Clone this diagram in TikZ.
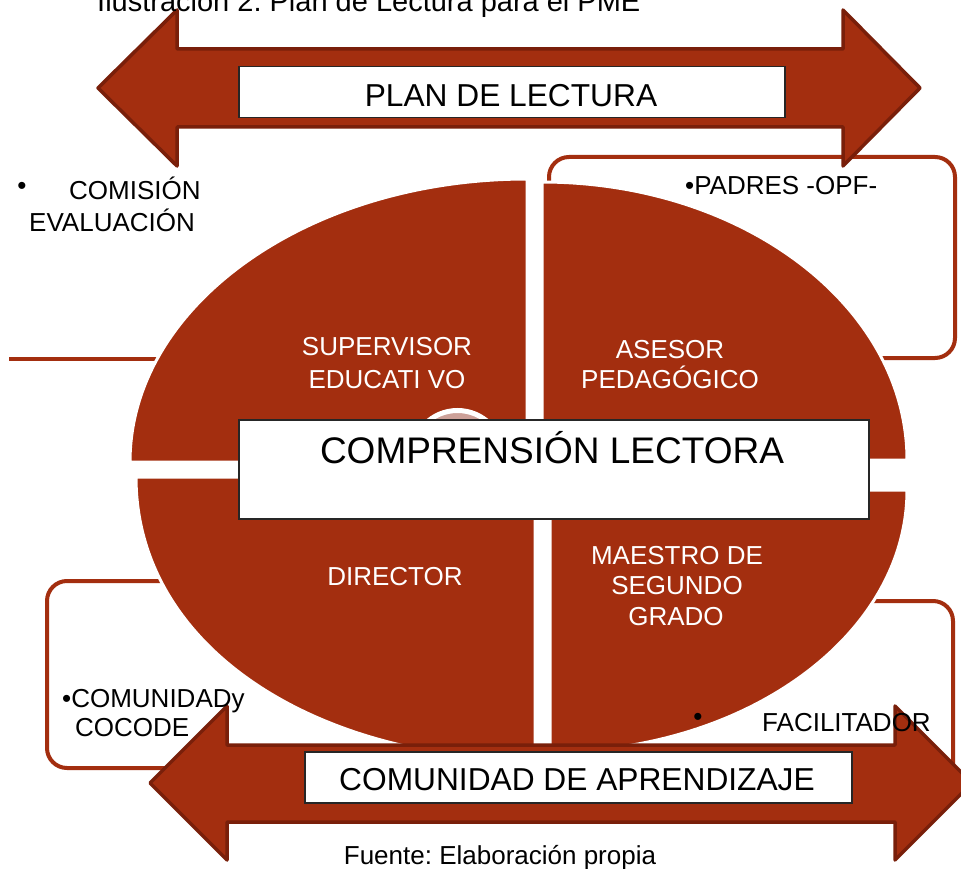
\documentclass[tikz,border=0pt]{standalone}
\usepackage{fontspec}
\setmainfont{Liberation Sans}
\frenchspacing
\definecolor{rust}{RGB}{163,46,15}
\definecolor{rustdark}{RGB}{121,31,10}
\definecolor{pinkish}{RGB}{204,160,152}
\begin{document}
\begin{tikzpicture}[x=1pt,y=-1pt,
  quad/.style={fill=rust,draw=white,line width=3pt,line join=round},
  bracket/.style={draw=rust,line width=4pt,rounded corners=20pt},
  bigarrow/.style={fill=rust,draw=rustdark,line width=3.5pt,line join=round},
  labelbox/.style={fill=white,draw=black!85,line width=1.5pt,inner sep=0pt,anchor=north west},
  wtext/.style={text=white,font=\fontsize{26}{30}\selectfont,inner sep=0pt,anchor=base},
  btext/.style={text=black,font=\fontsize{26}{30}\selectfont,inner sep=0pt,anchor=base west},
  bigtext/.style={text=black,inner sep=0pt,anchor=base},
]
\fill[white] (0,0) rectangle (961,869);
\useasboundingbox (0,0) rectangle (961,869);

% brackets behind the ellipse
\draw[bracket] (549,157) rectangle (955,358);
\draw[bracket] (47,581) rectangle (480,768);
\draw[bracket] (600,601) rectangle (953,800);
\coordinate (lineL) at (9,359);
\coordinate (lineR) at (250,359);
\draw[draw=rust,line width=3.5pt] (lineL) -- (lineR);

% ellipse quadrants
\path[quad] (527,462) -- (130,462) arc[start angle=180,end angle=270,x radius=397,y radius=283] -- cycle;
\path[quad] (542,460) -- (542,182) arc[start angle=270,end angle=360,x radius=365,y radius=278] -- cycle;
\path[quad] (550,490) -- (907,490) arc[start angle=0,end angle=90,x radius=357,y radius=262] -- cycle;
\path[quad] (535,477) -- (535,760) .. controls (315,760) and (136,647) .. (136,477) -- cycle;

% small circle
\draw[white,line width=5pt,fill=pinkish] (457.5,456.5) circle[radius=46];

% quadrant labels
\node[wtext] (sup1) at (387,355) {SUPERVISOR};
\node[wtext] (sup2) at (387,388) {EDUCATI VO};
\node[wtext] (ase1) at (670,358) {ASESOR};
\node[wtext] (ase2) at (670,388) {PEDAGÓGICO};
\node[wtext] (dir) at (395,585) {DIRECTOR};
\node[wtext] (mae1) at (677,564) {MAESTRO DE};
\node[wtext] (mae2) at (677,594) {SEGUNDO};
\node[wtext] (mae3) at (676,625) {GRADO};

% center box
\node[labelbox,minimum width=630pt,minimum height=99pt] (centerbox) at (238,419) {};
\node[bigtext,font=\fontsize{37}{44}\selectfont] (comp) at (552,463) {COMPRENSIÓN LECTORA};

% arrows
\draw[bigarrow] (98,88) -- (177,10) -- (177,49) -- (843,49) -- (843,10) -- (920,88) -- (843,166) -- (843,127) -- (177,127) -- (177,166) -- cycle;
\draw[bigarrow] (150,783) -- (227,706) -- (227,745) -- (895,745) -- (895,706) -- (972,783) -- (895,860) -- (895,822) -- (227,822) -- (227,860) -- cycle;

\node[labelbox,minimum width=546pt,minimum height=51pt] (planbox) at (238,66) {};
\node[bigtext,font=\fontsize{31.7}{38}\selectfont] (plan) at (511,107) {PLAN DE LECTURA};
\node[labelbox,minimum width=547pt,minimum height=51pt] (combox) at (304,751) {};
\node[bigtext,font=\fontsize{31.7}{38}\selectfont] (comunidad) at (577,790) {COMUNIDAD DE APRENDIZAJE};

% outside texts
\node[text=black,font=\fontsize{26}{30}\selectfont,inner sep=0pt] (b1) at (22,188) {•};
\node[btext] (comi1) at (69,200) {COMISIÓN};
\node[btext] (comi2) at (29,232) {EVALUACIÓN};
\node[btext] (padres) at (685,195) {•PADRES -OPF-};
\node[btext] (cocode1) at (62,707) {•COMUNIDADy};
\node[btext] (cocode2) at (75,736) {COCODE};
\node[text=black,font=\fontsize{26}{30}\selectfont,inner sep=0pt] (b2) at (698,719) {•};
\node[btext] (facil) at (762,731) {FACILITADOR};

% title and source
\node[btext,font=\fontsize{29}{34}\selectfont] (title) at (97,12) {Ilustración 2. Plan de Lectura para el PME};
\node[bigtext,font=\fontsize{26}{30}\selectfont] (fuente) at (500,864) {Fuente: Elaboración propia};
\end{tikzpicture}
\end{document}
